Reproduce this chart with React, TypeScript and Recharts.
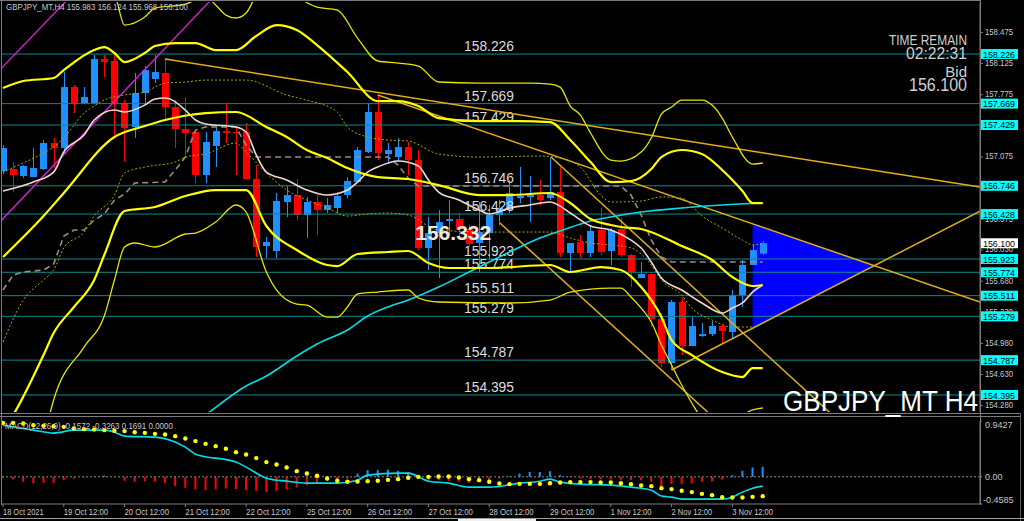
import React from "react";
import {
  ComposedChart,
  Bar,
  Line,
  Area,
  XAxis,
  YAxis,
  ReferenceLine,
  ReferenceDot,
  Cell,
} from "recharts";

const FONT = "'Liberation Sans', Arial, sans-serif";
const BULL = "#1e90ff";
const BEAR = "#ff0000";
const TEAL = "#0f8a8a";
const GOLD = "#e0ae1c";
const AXIS_TXT = "#c8c8c8";
const FRAME = "#7c7c7c";

const X_DOMAIN: [number, number] = [-0.197, 96.45];
const PRICE_DOMAIN: [number, number] = [154.204, 158.811];
const MACD_DOMAIN: [number, number] = [-0.4585, 0.9427];

type Pt = [number, number];

// H4 bars, [open, high, low, close]
const ohlc: [number, number, number, number][] = [
  [156.912, 157.204, 156.878, 157.17],
  [156.934, 157.013, 156.676, 156.867],
  [156.855, 156.979, 156.833, 156.968],
  [156.844, 157.17, 156.844, 156.945],
  [156.934, 157.26, 156.923, 157.226],
  [157.226, 157.283, 156.945, 157.17],
  [157.17, 158.024, 157.114, 157.855],
  [157.855, 157.878, 157.563, 157.676],
  [157.676, 157.855, 157.676, 157.743],
  [157.676, 158.215, 157.676, 158.17],
  [158.17, 158.215, 157.968, 158.136],
  [158.148, 158.215, 157.316, 157.676],
  [157.676, 157.709, 157.013, 157.395],
  [157.406, 158.013, 157.283, 157.788],
  [157.788, 158.091, 157.676, 158.046],
  [157.945, 158.215, 157.9, 158.024],
  [158.013, 158.181, 157.485, 157.631],
  [157.631, 157.709, 157.17, 157.384],
  [157.384, 157.743, 157.092, 157.339],
  [157.35, 157.372, 156.777, 156.867],
  [156.867, 157.35, 156.777, 157.238],
  [157.193, 157.406, 156.957, 157.361],
  [157.361, 157.664, 157.226, 157.339],
  [157.35, 157.418, 156.867, 157.339],
  [157.35, 157.451, 156.811, 156.822],
  [156.822, 156.979, 155.945, 156.058],
  [156.069, 156.17, 155.934, 156.114],
  [156.013, 156.664, 155.934, 156.575],
  [156.563, 156.743, 156.395, 156.642],
  [156.642, 156.822, 156.361, 156.417],
  [156.417, 156.619, 156.159, 156.563],
  [156.563, 156.664, 156.193, 156.473],
  [156.473, 156.608, 156.44, 156.53],
  [156.496, 156.676, 156.44, 156.631],
  [156.642, 156.844, 156.608, 156.799],
  [156.788, 157.181, 156.777, 157.148],
  [157.125, 157.676, 157.114, 157.575],
  [157.575, 157.766, 157.035, 157.114],
  [157.103, 157.226, 157.002, 157.148],
  [157.069, 157.283, 157.013, 157.181],
  [157.181, 157.238, 156.867, 157.035],
  [157.035, 157.148, 156.024, 156.047],
  [156.047, 156.395, 155.799, 156.215],
  [156.215, 156.473, 155.709, 156.339],
  [156.35, 156.586, 156.193, 156.372],
  [156.372, 156.44, 156.17, 156.26],
  [156.26, 156.305, 156.058, 156.091],
  [156.103, 156.563, 155.766, 156.226],
  [156.215, 156.53, 155.912, 156.417],
  [156.417, 156.586, 156.305, 156.496],
  [156.473, 156.811, 156.44, 156.664],
  [156.608, 156.957, 156.552, 156.631],
  [156.619, 156.855, 156.339, 156.642],
  [156.642, 156.811, 156.53, 156.586],
  [156.608, 157.069, 156.586, 156.676],
  [156.676, 156.957, 155.945, 155.99],
  [155.99, 156.103, 155.777, 156.103],
  [156.114, 156.193, 155.934, 155.99],
  [155.99, 156.305, 155.945, 156.238],
  [156.249, 156.496, 155.968, 156.002],
  [156.013, 156.271, 155.856, 156.249],
  [156.26, 156.384, 155.945, 155.968],
  [155.968, 155.979, 155.608, 155.777],
  [155.709, 155.889, 155.709, 155.754],
  [155.754, 155.766, 155.159, 155.249],
  [155.249, 155.316, 154.709, 154.754],
  [154.754, 155.462, 154.676, 155.44],
  [155.44, 155.496, 154.844, 154.945],
  [154.945, 155.271, 154.945, 155.17],
  [155.058, 155.204, 155.047, 155.08],
  [155.08, 155.226, 155.058, 155.17],
  [155.17, 155.193, 154.979, 155.114],
  [155.103, 155.575, 155.035, 155.518],
  [155.518, 155.912, 155.384, 155.856],
  [155.856, 156.08, 155.856, 156.024],
  [155.983, 156.124, 155.968, 156.1],
];

// indicator readings, [bar index, price]
const bbMid: Pt[] = [[0,155.945],[4,156.406],[6,156.665],[11,157.294],[14,157.417],[16,157.485],[20,157.563],[23,157.575],[26,157.406],[28,157.294],[30,157.148],[32,157.058],[34,156.945],[37,156.844],[40,156.822],[43,156.754],[47,156.642],[50,156.642],[54,156.665],[56,156.552],[58,156.372],[60,156.305],[61,156.283],[63,156.26],[67,156.069],[70,155.912],[72,155.721],[74,155.62],[75,155.631]];
const bbUp1: Pt[] = [[0,156.9],[2,157.002],[4,157.114],[5,157.181],[6,157.283],[8,157.563],[9,157.642],[10,157.709],[12,157.766],[14,157.799],[15,157.855],[16,157.9],[18,157.912],[20,157.934],[24,157.934],[28,157.766],[30,157.709],[33,157.575],[34,157.406],[36,157.294],[38,157.26],[40,157.249],[43,157.103],[47,157.069],[53,157.08],[55,157.058],[57,156.957],[59,156.642],[60,156.563],[63,156.575],[65,156.62],[67,156.608],[69,156.406],[71,156.271],[73,156.136],[74,156.081],[75,156.103]];
const bbLow1: Pt[] = [[0,154.99],[2,155.462],[4,155.687],[5,155.799],[6,156.047],[8,156.226],[9,156.406],[11,156.642],[12,156.889],[14,156.957],[17,157.013],[18,157.069],[20,157.103],[23,157.226],[24,157.125],[26,156.889],[28,156.698],[30,156.586],[32,156.496],[34,156.406],[36,156.429],[38,156.44],[40,156.417],[43,156.249],[48,156.226],[54,156.226],[56,156.159],[58,156.103],[60,156.081],[62,156.047],[64,155.856],[65,155.687],[67,155.518],[68,155.372],[70,155.238],[72,155.159],[74,155.159],[75,155.204]];
const bbUp2: Pt[] = [[0,157.844],[2,157.923],[5,157.957],[6,158.046],[9,158.271],[10,158.305],[11,158.238],[12,158.136],[14,158.238],[15,158.316],[17,158.35],[19,158.35],[21,158.271],[23,158.271],[25,158.429],[27,158.552],[29,158.496],[31,158.327],[34,158.024],[37,157.698],[39,157.698],[41,157.642],[43,157.507],[47,157.473],[51,157.473],[54,157.462],[56,157.26],[58,157.013],[60,156.788],[62,156.799],[64,156.934],[65,157.069],[67,157.148],[69,157.103],[71,156.923],[73,156.687],[74,156.552],[75,156.552]];
const bbLow2: Pt[] = [[0,154.002],[1,154.17],[4,154.844],[5,155.091],[7,155.384],[9,155.687],[10,155.968],[12,156.462],[15,156.507],[18,156.631],[21,156.698],[24,156.698],[26,156.294],[29,156.024],[32,155.856],[33,155.844],[35,155.979],[38,156.002],[40,156.013],[42,155.878],[44,155.822],[48,155.822],[54,155.856],[56,155.777],[59,155.833],[61,155.799],[63,155.608],[65,155.271],[66,155.013],[68,154.844],[71,154.653],[73,154.597],[74,154.698],[75,154.698]];
const bbUp3: Pt[] = [[0,158.945],[10,158.945],[11,158.889],[12,158.552],[14,158.642],[15,158.743],[18,158.788],[19,158.833],[20,158.867],[21,158.777],[22,158.664],[23,158.631],[24,158.687],[25,158.889],[27,159.17],[29,158.889],[31,158.754],[33,158.721],[35,158.406],[37,158.148],[39,158.125],[41,158.091],[43,157.912],[47,157.9],[52,157.9],[54,157.889],[55,157.855],[56,157.642],[57,157.541],[58,157.339],[60,157.035],[61,157.024],[63,157.125],[64,157.283],[65,157.552],[66,157.631],[67,157.709],[69,157.709],[70,157.653],[71,157.507],[72,157.294],[74,156.99],[75,157.002]];
const bbLow3: Pt[] = [[4,153.889],[5,154.339],[8,154.934],[10,155.283],[11,155.687],[12,156.058],[13,156.103],[15,156.058],[18,156.204],[19,156.215],[21,156.339],[23,156.53],[24,156.451],[26,155.777],[27,155.575],[29,155.417],[30,155.406],[32,155.271],[33,155.271],[34,155.384],[35,155.53],[37,155.552],[40,155.575],[41,155.485],[43,155.44],[50,155.429],[54,155.462],[56,155.552],[60,155.597],[61,155.597],[62,155.496],[63,155.372],[64,155.215],[65,154.957],[66,154.732],[67,154.507],[68,154.305],[69,154.136],[71,154.024],[73,154.17],[74,154.227],[75,154.249]];
const kijun: Pt[] = [[0,155.575],[1,155.743],[2,155.777],[4,155.799],[5,155.867],[6,156.181],[7,156.249],[8,156.249],[9,156.361],[10,156.429],[11,156.586],[12,156.653],[13,156.777],[16,156.788],[17,156.923],[18,157.069],[19,157.372],[20,157.406],[23,157.406],[24,157.204],[25,157.069],[38,157.069],[39,156.979],[40,156.833],[41,156.743],[61,156.743],[62,156.642],[63,156.417],[64,156.136],[65,155.945],[66,155.889],[75,155.889]];
const whiteMa: Pt[] = [[0,156.687],[3,156.788],[5,156.9],[6,157.125],[8,157.316],[9,157.485],[11,157.597],[12,157.575],[14,157.653],[15,157.721],[16,157.732],[18,157.597],[19,157.485],[20,157.44],[23,157.406],[24,157.35],[25,157.092],[26,156.9],[28,156.811],[30,156.698],[32,156.642],[34,156.698],[35,156.788],[36,156.9],[37,156.957],[39,157.024],[41,156.968],[42,156.811],[43,156.676],[45,156.586],[47,156.473],[48,156.429],[50,156.496],[52,156.53],[54,156.563],[56,156.44],[58,156.294],[60,156.249],[62,156.136],[63,156.047],[64,155.889],[65,155.709],[67,155.575],[69,155.429],[71,155.316],[72,155.372],[73,155.429],[74,155.552],[75,155.631]];
const cyanMa: Pt[] = [[14,153.653],[17,153.912],[20,154.17],[24,154.496],[26,154.608],[29,154.833],[31,154.968],[34,155.125],[36,155.283],[38,155.384],[40,155.462],[43,155.608],[46,155.777],[48,155.889],[50,156.002],[53,156.159],[55,156.238],[58,156.35],[60,156.395],[63,156.451],[67,156.496],[71,156.53],[75,156.552]];

const levels = [158.226, 157.669, 157.429, 156.746, 156.428, 155.923, 155.774, 155.511, 155.279, 154.787, 154.395];
const bidPrice = 156.1;
// price scale labels that are not hidden under the level boxes
const priceTicks = [158.475, 158.125, 157.775, 157.075, 156.375, 156.03, 155.68, 155.33, 154.98, 154.63, 154.28];

// drawn objects, endpoints as [bar index, price]
const trendLines: [Pt, Pt][] = [
  [[16, 158.17], [96.45, 156.732]],
  [[37, 157.766], [96.45, 155.44]],
  [[66, 154.676], [96.45, 156.46]],
  [[49.06, 156.327], [71.5, 154.002]],
  [[54.1, 157.069], [83.5, 154.002]],
];
const channelLines: [Pt, Pt][] = [
  [[-0.3, 158.05], [8, 159.03]],
  [[-0.3, 156.34], [22, 159.01]],
];
// [bar index, bottom, top]
const triangle: [number, number, number][] = [[74, 155.146, 156.319], [86, 155.849, 155.849]];

// MACD(12,26,9)
const macdLine: Pt[] = [[0,0.872],[3,0.788],[5,0.738],[7,0.788],[10,0.788],[11,0.754],[12,0.687],[15,0.67],[18,0.501],[19,0.383],[23,0.249],[24,0.164],[26,-0.022],[28,-0.073],[30,-0.106],[33,-0.106],[35,-0.056],[36,0.029],[39,0.062],[40,0.062],[42,-0.073],[44,-0.106],[46,-0.174],[48,-0.174],[51,-0.106],[53,-0.073],[54,-0.038],[55,-0.089],[57,-0.123],[60,-0.14],[62,-0.174],[64,-0.225],[65,-0.325],[66,-0.343],[67,-0.376],[71,-0.376],[72,-0.343],[73,-0.258],[74,-0.191],[75,-0.157]];
const macdSignal = [0.912,0.912,0.901,0.873,0.861,0.856,0.844,0.816,0.805,0.8,0.788,0.777,0.772,0.754,0.743,0.726,0.715,0.687,0.648,0.603,0.557,0.518,0.473,0.417,0.378,0.316,0.249,0.209,0.158,0.096,0.057,0.018,-0.027,-0.067,-0.084,-0.079,-0.073,-0.067,-0.051,-0.039,-0.017,0,0,0.006,0.006,-0.01,-0.039,-0.056,-0.084,-0.112,-0.123,-0.118,-0.118,-0.118,-0.107,-0.095,-0.089,-0.089,-0.089,-0.095,-0.095,-0.107,-0.123,-0.146,-0.157,-0.191,-0.207,-0.236,-0.258,-0.287,-0.309,-0.343,-0.348,-0.348,-0.338,-0.326];
const macdHist = [-0.02,-0.045,-0.084,-0.113,-0.102,-0.102,-0.056,-0.028,-0.011,-0.005,0.021,-0.01,-0.067,-0.084,-0.074,-0.084,-0.102,-0.157,-0.185,-0.213,-0.225,-0.213,-0.197,-0.208,-0.225,-0.236,-0.253,-0.236,-0.213,-0.18,-0.141,-0.102,-0.067,-0.056,-0.028,0.056,0.113,0.113,0.123,0.102,0.084,-0.028,-0.045,-0.056,-0.067,-0.079,-0.102,-0.084,-0.067,-0.028,0.01,0.056,0.084,0.084,0.095,0.028,0.005,-0.028,-0.039,-0.045,-0.045,-0.056,-0.056,-0.056,-0.084,-0.157,-0.123,-0.123,-0.113,-0.084,-0.074,-0.045,0.028,0.102,0.157,0.169];
const macdTicks = [0.9427, 0, -0.4585];

const dateTickIdx = [0, 6, 12, 18, 24, 30, 36, 42, 48, 54, 60, 66, 72];
const dateTickLabels = ["18 Oct 2021", "19 Oct 12:00", "20 Oct 12:00", "21 Oct 12:00", "22 Oct 12:00", "25 Oct 12:00", "26 Oct 12:00", "27 Oct 12:00", "28 Oct 12:00", "29 Oct 12:00", "1 Nov 12:00", "2 Nov 12:00", "3 Nov 12:00"];

// build the chart tables
const lineSeries: Record<string, Pt[]> = {
  mid: bbMid, up1: bbUp1, low1: bbLow1, up2: bbUp2, low2: bbLow2,
  up3: bbUp3, low3: bbLow3, kijun, white: whiteMa, cyan: cyanMa,
};
const priceRows: Record<string, any>[] = ohlc.map(([o, h, l, c], i) => ({ i, o, h, l, c, range: [l, h] }));
Object.entries(lineSeries).forEach(([key, pts]) => {
  const byBar = new Map(pts);
  priceRows.forEach((row) => {
    row[key] = byBar.has(row.i) ? byBar.get(row.i) : null;
  });
});
triangle.forEach(([i, lo, hi]) => {
  const row = priceRows.find((r) => r.i === i);
  if (row) row.tri = [lo, hi];
  else priceRows.push({ i, tri: [lo, hi] });
});

const macdRows: Record<string, any>[] = macdHist.map((hist, i) => ({ i, hist, signal: macdSignal[i], macd: null }));
macdLine.forEach(([i, v]) => {
  macdRows[i].macd = v;
});

function Candle(props: any) {
  const { x, y, width, height, payload } = props;
  if (!payload || payload.h == null) return null;
  const { o, h, l, c } = payload;
  const top0 = Math.min(y, y + height);
  const hh = Math.abs(height);
  const span = h - l;
  const py = (p: number) => (span > 0 ? top0 + ((h - p) / span) * hh : top0);
  const cx = Math.floor(x + width / 2) + 0.5;
  const col = c >= o ? BULL : BEAR;
  const bt = py(Math.max(o, c));
  const bb = py(Math.min(o, c));
  return (
    <g>
      <line x1={cx} x2={cx} y1={top0} y2={top0 + hh} stroke={col} strokeWidth={1} />
      {bb - bt < 1 ? (
        <line x1={cx - 3.5} x2={cx + 3.5} y1={Math.round(bt) + 0.5} y2={Math.round(bt) + 0.5} stroke={col} strokeWidth={1} />
      ) : (
        <rect x={cx - 3.5} y={bt} width={7} height={bb - bt} fill={col} />
      )}
    </g>
  );
}

// price scale label drawn at the right of the plot, under the level boxes
const ScaleLabel = (props: any) => {
  const vb = props.viewBox || {};
  const right = vb.x + vb.width;
  return (
    <g>
      <line x1={right} x2={right + 3} y1={vb.y + 0.5} y2={vb.y + 0.5} stroke={FRAME} />
      <text x={right + 5} y={vb.y + 3} fill={AXIS_TXT} fontSize={9} fontFamily={FONT} textLength={28} lengthAdjust="spacingAndGlyphs">
        {props.text}
      </text>
    </g>
  );
};

const MacdTick = ({ x, y, payload }: any) => {
  const v = Number(payload.value);
  const label = v === 0 ? "0.00" : v.toFixed(4);
  const dy = v > 0 ? 6.5 : v < 0 ? -1.5 : 3.5;
  return (
    <text x={v < 0 ? x - 2 : x} y={y + dy} fill={AXIS_TXT} fontSize={9} fontFamily={FONT}>
      {label}
    </text>
  );
};

const DateTick = ({ x, y, payload }: any) => {
  const k = dateTickIdx.indexOf(payload.value);
  const label = k >= 0 ? dateTickLabels[k] : "";
  return (
    <text x={x} y={y + 5.5} fill={AXIS_TXT} fontSize={9} fontFamily={FONT} textLength={label.length * 3.7} lengthAdjust="spacingAndGlyphs">
      {label}
    </text>
  );
};

const LevelLabel = (props: any) => {
  const vb = props.viewBox || {};
  const right = vb.x + vb.width;
  return (
    <g>
      <text x={vb.x + 463} y={vb.y - 3} fill="#dcdcdc" fontSize={14.5} fontFamily={FONT} textLength={50} lengthAdjust="spacingAndGlyphs">
        {props.text}
      </text>
      <rect x={right + 1} y={vb.y - 5} width={37} height={10} fill="#00ffff" />
      <text x={right + 3} y={vb.y + 3.5} fill="#000" fontSize={9.5} fontFamily={FONT} textLength={32} lengthAdjust="spacingAndGlyphs">
        {props.text}
      </text>
    </g>
  );
};

const BidLabel = (props: any) => {
  const vb = props.viewBox || {};
  const right = vb.x + vb.width;
  return (
    <g>
      <rect x={right + 1} y={vb.y - 5} width={37} height={10} fill="#ffffff" />
      <text x={right + 3} y={vb.y + 3.5} fill="#000" fontSize={9.5} fontFamily={FONT} textLength={32} lengthAdjust="spacingAndGlyphs">
        {props.text}
      </text>
    </g>
  );
};

const BigLabel = (props: any) => {
  const vb = props.viewBox || {};
  return (
    <text x={vb.x + 5} y={vb.y + 8} fill="#f3e6da" fontSize={20} fontWeight="bold" fontFamily={FONT} textLength={76} lengthAdjust="spacingAndGlyphs">
      156.332
    </text>
  );
};

export default function App() {
  return (
    <div style={{ position: "relative", width: 1024, height: 521, background: "#000", overflow: "hidden" }}>
      <style>{"body{margin:0;background:#000}"}</style>

      <div style={{ position: "absolute", left: 0, top: 0 }}>
        <ComposedChart width={1024} height={414} data={priceRows} margin={{ top: 2, right: 0, bottom: 2, left: 1 }}>
          <XAxis type="number" dataKey="i" domain={X_DOMAIN} allowDataOverflow hide />
          <YAxis
            orientation="right"
            width={44}
            domain={PRICE_DOMAIN}
            allowDataOverflow
            ticks={priceTicks}
            tick={false}
            tickLine={false}
            axisLine={{ stroke: FRAME }}
          />
          <Area dataKey="tri" type="linear" fill="#0000ff" fillOpacity={1} stroke="none" connectNulls isAnimationActive={false} />
          {priceTicks.map((t) => (
            <ReferenceLine key={"s" + t} y={t} stroke="none" label={<ScaleLabel text={t.toFixed(3)} />} />
          ))}
          {levels.map((lv) => (
            <ReferenceLine key={lv} y={lv} stroke={TEAL} strokeWidth={1} label={<LevelLabel text={lv.toFixed(3)} />} />
          ))}
          <ReferenceLine y={bidPrice} stroke="none" label={<BidLabel text={bidPrice.toFixed(3)} />} />
          {trendLines.map(([a, b], k) => (
            <ReferenceLine key={"t" + k} segment={[{ x: a[0], y: a[1] }, { x: b[0], y: b[1] }]} stroke={GOLD} strokeWidth={1.5} ifOverflow="hidden" />
          ))}
          {channelLines.map(([a, b], k) => (
            <ReferenceLine key={"m" + k} segment={[{ x: a[0], y: a[1] }, { x: b[0], y: b[1] }]} stroke="#e020e0" strokeWidth={1.3} ifOverflow="hidden" />
          ))}
          <Bar dataKey="range" barSize={7} shape={<Candle />} isAnimationActive={false} />
          <Line dataKey="cyan" type="monotone" stroke="#00dde8" strokeWidth={1.6} dot={false} activeDot={false} connectNulls isAnimationActive={false} />
          <Line dataKey="up1" type="monotone" stroke="#a8a800" strokeWidth={1} strokeDasharray="2 2" dot={false} activeDot={false} connectNulls isAnimationActive={false} />
          <Line dataKey="low1" type="monotone" stroke="#a8a800" strokeWidth={1} strokeDasharray="2 2" dot={false} activeDot={false} connectNulls isAnimationActive={false} />
          <Line dataKey="kijun" type="linear" stroke="#9a8c80" strokeWidth={1.6} strokeDasharray="6 4" dot={false} activeDot={false} connectNulls isAnimationActive={false} />
          <Line dataKey="white" type="monotone" stroke="#eed8cc" strokeWidth={1.6} dot={false} activeDot={false} connectNulls isAnimationActive={false} />
          <Line dataKey="up3" type="monotone" stroke="#e4e400" strokeWidth={1.3} dot={false} activeDot={false} connectNulls isAnimationActive={false} />
          <Line dataKey="low3" type="monotone" stroke="#e4e400" strokeWidth={1.3} dot={false} activeDot={false} connectNulls isAnimationActive={false} />
          <Line dataKey="up2" type="monotone" stroke="#ffff00" strokeWidth={2.2} dot={false} activeDot={false} connectNulls isAnimationActive={false} />
          <Line dataKey="low2" type="monotone" stroke="#ffff00" strokeWidth={2.2} dot={false} activeDot={false} connectNulls isAnimationActive={false} />
          <Line dataKey="mid" type="monotone" stroke="#ffff00" strokeWidth={2.2} dot={false} activeDot={false} connectNulls isAnimationActive={false} />
          <ReferenceDot x={40.3} y={156.215} r={1} fill="none" stroke="none" label={<BigLabel />} />
        </ComposedChart>
      </div>

      <div style={{ position: "absolute", left: 0, top: 415 }}>
        <ComposedChart width={1024} height={106} data={macdRows} margin={{ top: 6, right: 0, bottom: 0, left: 1 }}>
          <XAxis
            type="number"
            dataKey="i"
            domain={X_DOMAIN}
            allowDataOverflow
            ticks={dateTickIdx}
            interval={0}
            tick={<DateTick />}
            tickSize={3}
            tickMargin={2}
            tickLine={{ stroke: FRAME }}
            axisLine={{ stroke: FRAME }}
            height={17}
          />
          <YAxis
            orientation="right"
            width={44}
            domain={MACD_DOMAIN}
            allowDataOverflow
            ticks={macdTicks}
            interval={0}
            tick={<MacdTick />}
            tickSize={2}
            tickMargin={3}
            tickLine={{ stroke: FRAME }}
            axisLine={{ stroke: FRAME }}
          />
          <ReferenceLine y={0} stroke="#8a8a8a" strokeDasharray="2 2" />
          <Bar dataKey="hist" barSize={2} isAnimationActive={false}>
            {macdHist.map((v, k) => (
              <Cell key={k} fill={v >= 0 ? BULL : BEAR} />
            ))}
          </Bar>
          <Line dataKey="macd" type="monotone" stroke="#00dde8" strokeWidth={1.6} dot={false} activeDot={false} connectNulls isAnimationActive={false} />
          <Line dataKey="signal" type="linear" stroke="none" dot={{ r: 2.2, fill: "#ffff00", stroke: "none" }} activeDot={false} isAnimationActive={false} />
        </ComposedChart>
      </div>

      <svg width={1024} height={521} style={{ position: "absolute", left: 0, top: 0, pointerEvents: "none" }}>
        <line x1={0} x2={981} y1={0.5} y2={0.5} stroke={FRAME} />
        <line x1={1.5} x2={1.5} y1={0} y2={505} stroke={FRAME} />
        <line x1={980.5} x2={980.5} y1={0} y2={505} stroke={FRAME} />
        <line x1={0} x2={1021} y1={413.5} y2={413.5} stroke={FRAME} />
        <line x1={0} x2={1021} y1={416.5} y2={416.5} stroke={FRAME} />
        <line x1={1020.5} x2={1020.5} y1={413} y2={521} stroke="#5a5a5a" />
        <line x1={0} x2={1024} y1={518.5} y2={518.5} stroke="#a0a0a0" />
        <rect x={458} y={519} width={78} height={2} fill="#f0f0f0" />

        <text x={6} y={10} fill={AXIS_TXT} fontSize={9} fontFamily={FONT} textLength={182} lengthAdjust="spacingAndGlyphs">
          GBPJPY_MT,H4 155.983 156.124 155.968 156.100
        </text>
        <text x={5} y={429} fill={AXIS_TXT} fontSize={9} fontFamily={FONT} textLength={168} lengthAdjust="spacingAndGlyphs">
          MACD(12,26,9) -0.1572 -0.3263 0.1691 0.0000
        </text>

        <text x={967} y={45} textAnchor="end" fill="#cfcfcf" fontSize={15} fontFamily={FONT} textLength={78} lengthAdjust="spacingAndGlyphs">
          TIME REMAIN
        </text>
        <text x={967} y={58.5} textAnchor="end" fill="#cfcfcf" fontSize={16} fontFamily={FONT} textLength={61} lengthAdjust="spacingAndGlyphs">
          02:22:31
        </text>
        <text x={967} y={77} textAnchor="end" fill="#cfcfcf" fontSize={15} fontFamily={FONT}>
          Bid
        </text>
        <text x={967} y={91} textAnchor="end" fill="#cfcfcf" fontSize={18} fontFamily={FONT} textLength={58} lengthAdjust="spacingAndGlyphs">
          156.100
        </text>

        <text x={783} y={411} fill="#ffffff" fontSize={30} fontFamily={FONT} textLength={195} lengthAdjust="spacingAndGlyphs">
          GBPJPY_MT H4
        </text>
      </svg>
    </div>
  );
}
